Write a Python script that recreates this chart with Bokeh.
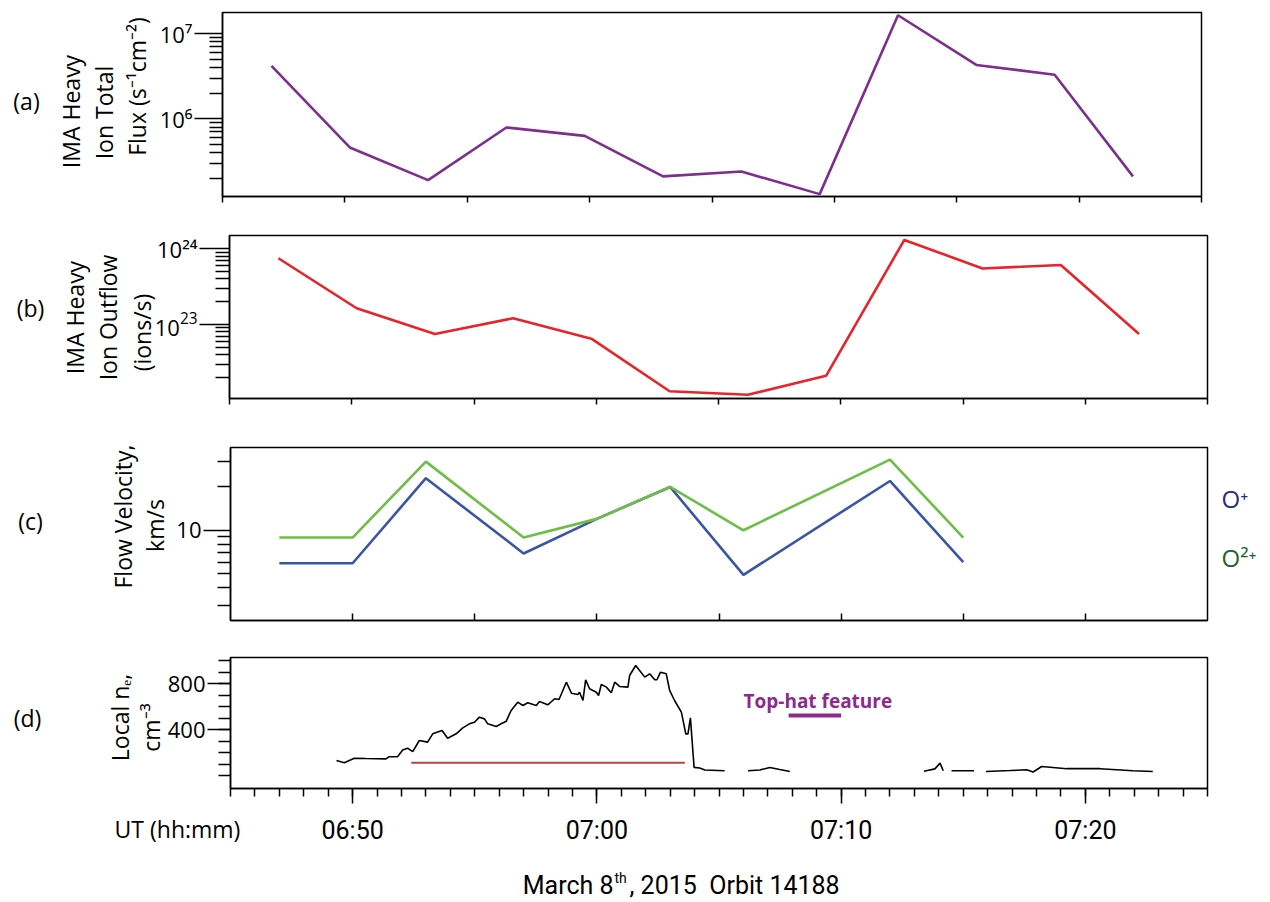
import math
import numpy as np
from bokeh.plotting import figure
from bokeh.layouts import column, row
from bokeh.models import FixedTicker, Label, Range1d, CustomJSTickFormatter
from bokeh.embed import file_html
from bokeh.resources import INLINE

NAN = float("nan")

# ---------------- data (time in minutes after 06:00 UT) ----------------
ima_time_min = [47.0, 50.2, 53.4, 56.6, 59.8, 63.0, 66.2, 69.4, 72.6, 75.8, 79.0, 82.2]
ima_flux = [4.2e6, 4.6e5, 1.9e5, 7.9e5, 6.3e5, 2.1e5, 2.4e5, 1.3e5, 1.65e7, 4.3e6, 3.3e6, 2.1e5]
ima_outflow = [7.5e23, 1.64e23, 7.5e22, 1.21e23, 6.5e22, 1.31e22, 1.18e22, 2.1e22,
               1.31e24, 5.5e23, 6.1e23, 7.5e22]

vel_time_min = [47.0, 50.0, 53.0, 57.0, 60.0, 63.0, 66.0, 72.0, 75.0]
vel_o_plus = [5.9, 5.9, 23.0, 6.9, 12.0, 20.0, 4.9, 22.0, 6.0]
vel_o2_plus = [8.9, 8.9, 30.0, 8.9, 12.0, 20.0, 10.0, 31.0, 8.9]

ne_time_min = [49.34, 49.66, 50.07, 50.55, 51.37, 51.50, 51.84, 52.05, 52.25, 52.46, 52.73,
               53.07, 53.28, 53.66, 53.89, 54.24, 54.51, 54.78, 54.99, 55.19, 55.40, 55.53,
               55.88, 56.08, 56.29, 56.49, 56.76, 56.97, 57.17, 57.52, 57.65, 57.99, 58.27,
               58.45, 58.75, 58.96, 59.22, 59.29, 59.43, 59.54, 59.70, 59.98, 60.07, 60.18,
               60.39, 60.59, 60.73, 60.93, 61.27, 61.34, 61.59, 61.75, 61.96, 62.16, 62.37,
               62.46, 62.60, 62.84, 62.98, 63.18, 63.46, 63.64, 63.73, 63.83, 63.98, 64.21,
               64.42, 65.23, NAN, 66.19, 66.67, 67.08, 67.49, 67.90, NAN, 73.39, 73.84,
               74.05, 74.18, NAN, 74.52, 75.44, NAN, 75.93, 76.92, 77.60, 77.86, 78.21,
               79.24, 80.60, 81.95, 82.76]
ne_density = [133, 113, 153, 150, 147, 166, 166, 224, 240, 210, 307,
              293, 365, 394, 327, 365, 417, 452, 466, 510, 495, 452,
              429, 452, 475, 568, 640, 611, 635, 611, 646, 617, 670,
              664, 814, 718, 707, 727, 655, 835, 757, 727, 698, 794,
              771, 722, 814, 777, 771, 872, 959, 916, 858, 887, 835,
              835, 900, 887, 742, 655, 553, 365, 365, 504, 73, 68,
              50, 44, NAN, 44, 50, 73, 55, 38, NAN, 40, 60,
              110, 44, NAN, 44, 44, NAN, 38, 46, 52, 33, 81,
              62, 62, 44, 38]

interval_time_min = [52.4, 63.6]
interval_density = [113, 113]
tophat_time_min = [67.85, 70.0]
tophat_density = [524, 524]

x_tick_minutes = [50, 60, 70, 80]
x_tick_labels = ["06:50", "07:00", "07:10", "07:20"]

# ---------------- layout helpers ----------------
PAGE_W = 1266
FONT = "Open Sans"
COND = "Roboto"
LBL = "23px"


def make_panel(frame, y_log):
    p = figure(frame_width=frame["fw"], frame_height=frame["fh"],
               min_border_left=frame["left"], min_border_right=PAGE_W - frame["left"] - frame["fw"],
               min_border_top=frame["top"], min_border_bottom=frame["bottom"],
               x_range=Range1d(frame["x0"], frame["x1"]),
               y_range=Range1d(frame["y0"], frame["y1"]),
               y_axis_type="log" if y_log else "linear",
               output_backend="svg", toolbar_location=None)
    p.grid.visible = False
    p.outline_line_color = "black"
    p.outline_line_width = 1.5
    p.outline_line_alpha = 1.0
    p.background_fill_color = "white"
    p.border_fill_color = "white"
    for ax in (p.xaxis[0], p.yaxis[0]):
        ax.axis_line_color = "black"
        ax.axis_line_width = 1.5
        ax.major_tick_line_color = "black"
        ax.major_tick_line_width = 1.5
        ax.minor_tick_line_color = "black"
        ax.minor_tick_line_width = 1.5
        ax.major_label_text_font = FONT
        ax.major_label_text_font_size = "22px"
        ax.major_label_text_color = "black"
    return p


def to_data(fr, ix, iy):
    L = fr["left"]
    T = fr["img_top"]
    R = L + fr["fw"]
    B = T + fr["fh"]
    x = fr["x0"] + (ix - L) / (R - L) * (fr["x1"] - fr["x0"])
    f = (B - iy) / (B - T)
    if fr["log"]:
        a, b = math.log10(fr["y0"]), math.log10(fr["y1"])
        y = 10 ** (a + f * (b - a))
    else:
        y = fr["y0"] + f * (fr["y1"] - fr["y0"])
    return x, y


def lab(p, fr, text, ix, iy, side="left", size=LBL, angle=0.0, align="center",
        color="black", font=FONT, style="normal"):
    x, y = to_data(fr, ix, iy)
    label = Label(x=x, y=y, text=text, angle=angle, text_align=align,
                  text_baseline="middle", text_font_size=size,
                  text_color=color, text_font=font, text_font_style=style)
    if side == "center":
        p.add_layout(label)
    else:
        p.add_layout(label, side)


def bare_x_axis(p, ticks, tick_in, tick_out):
    ax = p.xaxis[0]
    ax.ticker = FixedTicker(ticks=ticks, minor_ticks=[])
    ax.formatter = CustomJSTickFormatter(code="return ''")
    ax.major_tick_in = tick_in
    ax.major_tick_out = tick_out
    ax.minor_tick_in = 0
    ax.minor_tick_out = 0
    ax.major_label_standoff = 0


def log_y_axis(p, decades, overrides, tick_out, minor_out):
    ax = p.yaxis[0]
    ax.ticker = FixedTicker(ticks=[10.0 ** e for e in decades],
                            minor_ticks=[k * 10.0 ** e for e in decades for k in range(2, 10)])
    ax.major_label_overrides = overrides
    ax.major_tick_out = tick_out
    ax.major_tick_in = 0
    ax.minor_tick_out = minor_out
    ax.minor_tick_in = 0
    ax.major_label_standoff = 2


ROT = math.pi / 2

# ---------------- panel (a) ----------------
fa = dict(left=222, fw=979, top=12, fh=184, bottom=22, img_top=12,
          x0=45, x1=85, y0=10 ** 5.086, y1=10 ** 7.25, log=True)
pa = make_panel(fa, True)
pa.line(ima_time_min, ima_flux, line_color="#7D2E8E", line_width=2.6)
log_y_axis(pa, (5, 6, 7), {1e6: "10⁶", 1e7: "10⁷"}, 28, 13)
bare_x_axis(pa, [45, 50, 55, 60, 65, 70, 75, 80, 85], 0, 6)
lab(pa, fa, "(a)", 26, 100)
lab(pa, fa, "IMA Heavy", 70, 111, angle=ROT)
lab(pa, fa, "Ion Total", 103, 112, angle=ROT)
lab(pa, fa, "Flux (s⁻¹cm⁻²)", 136, 86, angle=ROT)

# ---------------- panel (b) ----------------
fb = dict(left=229, fw=978, top=17, fh=163, bottom=32, img_top=235,
          x0=45, x1=85, y0=10 ** 22.022, y1=10 ** 24.176, log=True)
pb = make_panel(fb, True)
pb.line(ima_time_min, ima_outflow, line_color="#E8232A", line_width=2.6)
log_y_axis(pb, (22, 23, 24), {1e23: "10²³", 1e24: "10²⁴"}, 30, 14)
bare_x_axis(pb, [45, 50, 55, 60, 65, 70, 75, 80, 85], 0, 6)
lab(pb, fb, "(b)", 30, 307)
lab(pb, fb, "IMA Heavy", 74, 317, angle=ROT)
lab(pb, fb, "Ion Outflow", 107, 317, angle=ROT)
lab(pb, fb, "(ions/s)", 141, 332, angle=ROT)

# ---------------- panel (c) ----------------
fc = dict(left=230, fw=977, top=17, fh=173, bottom=28, img_top=447,
          x0=45, x1=85, y0=2.36, y1=37.6, log=True)
pc = make_panel(fc, True)
pc.line(vel_time_min, vel_o_plus, line_color="#3A55A5", line_width=2.6)
pc.line(vel_time_min, vel_o2_plus, line_color="#6CBE45", line_width=2.6)
log_y_axis(pc, (0, 1, 2), {10.0: "10"}, 27, 13)
bare_x_axis(pc, [50, 55, 60, 65, 70, 75, 80], 7, 0)
lab(pc, fc, "(c)", 30, 520)
lab(pc, fc, "Flow Velocity,", 122, 516, angle=ROT)
lab(pc, fc, "km/s", 154, 525, angle=ROT)
lab(pc, fc, "O⁺", 1221, 498, side="right", align="left", size="24px", color="#2B2C7C")
lab(pc, fc, "O²⁺", 1221, 557, side="right", align="left", size="24px", color="#1E6432")

# ---------------- panel (d) ----------------
fd = dict(left=230, fw=977, top=9, fh=131, bottom=110, img_top=657,
          x0=45, x1=85, y0=-110.4, y1=1028.7, log=False)
pd_ = make_panel(fd, False)
pd_.line(np.array(ne_time_min, dtype=float), np.array(ne_density, dtype=float),
         line_color="black", line_width=1.6)
pd_.line(interval_time_min, interval_density, line_color="#B5473B", line_width=2)
pd_.line(tophat_time_min, tophat_density, line_color="#8E2A8E", line_width=4)
ya = pd_.yaxis[0]
ya.ticker = FixedTicker(ticks=[400, 800], minor_ticks=list(range(0, 1001, 100)))
ya.major_tick_out = 23
ya.major_tick_in = 0
ya.minor_tick_out = 12
ya.minor_tick_in = 0
ya.major_label_standoff = 2
xa = pd_.xaxis[0]
xa.ticker = FixedTicker(ticks=x_tick_minutes, minor_ticks=list(range(45, 86)))
xa.major_label_overrides = dict(zip(x_tick_minutes, x_tick_labels))
xa.major_tick_out = 15
xa.major_tick_in = 0
xa.minor_tick_out = 8
xa.minor_tick_in = 0
xa.major_label_standoff = 12
xa.major_label_text_font = COND
xa.major_label_text_font_size = "25px"
lab(pd_, fd, "(d)", 27, 717)
lab(pd_, fd, "Local nₑ,", 119, 717, angle=ROT)
lab(pd_, fd, "cm⁻³", 150, 727, angle=ROT)
lab(pd_, fd, "Top-hat feature", 743, 700, side="center", size="19px", align="left",
    color="#8E2A8E", style="bold")
lab(pd_, fd, "UT (hh:mm)", 177, 828, side="below", size="23px")
lab(pd_, fd, "March 8", 613, 885, side="below", size="25px", align="right", font=COND)
lab(pd_, fd, "th", 614, 877, side="below", size="14px", align="left", font=COND)
lab(pd_, fd, ", 2015\u00a0\u00a0Orbit 14188", 629, 885, side="below", size="25px",
    align="left", font=COND)

layout = column(row(pa), row(pb), row(pc), row(pd_), spacing=0)

with open("out.html", "w") as fh:
    fh.write(file_html(layout, INLINE))
